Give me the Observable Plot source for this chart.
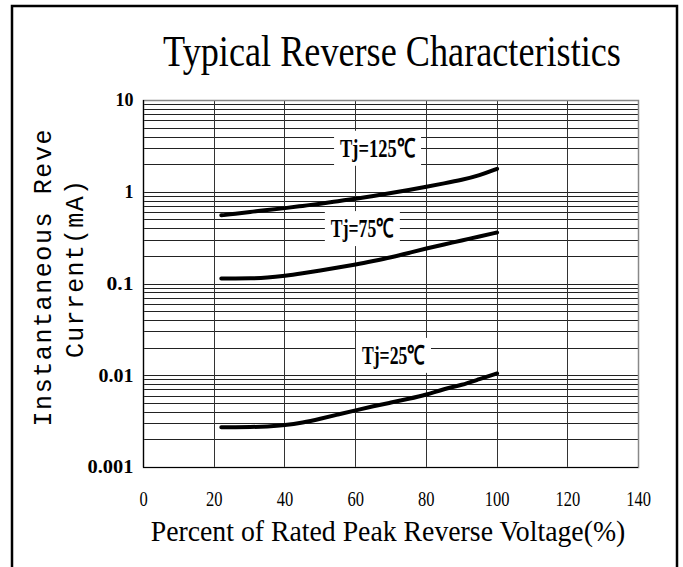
<!DOCTYPE html>
<html>
<head>
<meta charset="utf-8">
<script src="https://cdn.jsdelivr.net/npm/d3@7"></script>
<script src="https://cdn.jsdelivr.net/npm/@observablehq/plot@0.6"></script>
<style>
  html, body { margin: 0; padding: 0; background: #fff; }
  svg { display: block; }
</style>
</head>
<body>
<script>
// ---- data ----
const titleText = "Typical Reverse Characteristics";
const xTitle = "Percent of Rated Peak Reverse Voltage(%)";
const yTitleLines = ["Instantaneous Reve", "Current(mA)"];

const xTicks = [0, 20, 40, 60, 80, 100, 120, 140];
const xGrid = [20, 40, 60, 80, 100, 120];
const yTicks = [10, 1, 0.1, 0.01, 0.001];
const yTickLabels = ["10", "1", "0.1", "0.01", "0.001"];
const yDecades = [0.001, 0.01, 0.1, 1];
const yMinor = [2, 3, 4, 5, 6, 7, 8, 9];

const pct = [22, 26, 30, 35, 40, 45, 50, 55, 60, 65, 70, 75, 80, 85, 90, 95, 100];
const tj125 = [0.56, 0.58, 0.61, 0.64, 0.67, 0.71, 0.75, 0.80, 0.85, 0.91, 0.98, 1.06, 1.15, 1.25, 1.36, 1.52, 1.80];
const tj75  = [0.115, 0.115, 0.115, 0.117, 0.123, 0.131, 0.140, 0.151, 0.163, 0.178, 0.195, 0.218, 0.244, 0.270, 0.298, 0.330, 0.364];
const tj25  = [0.00275, 0.00275, 0.00276, 0.0028, 0.00288, 0.00308, 0.0034, 0.00378, 0.0042, 0.00465, 0.0051, 0.0056, 0.0062, 0.0072, 0.0079, 0.0092, 0.0106];

const labelText = ["Tj=125℃", "Tj=75℃", "Tj=25℃"];
const labelX = [66.2, 61.9, 70.7];
const labelY = [3.0, 0.40, 0.0166];

// ---- derived tables ----
const yGrid = yDecades.flatMap(d => yMinor.map(m => m * d)).concat(yTicks);
const series = [
  ...pct.map((x, i) => ({x, y: tj125[i], s: "125"})),
  ...pct.map((x, i) => ({x, y: tj75[i], s: "75"})),
  ...pct.map((x, i) => ({x, y: tj25[i], s: "25"}))
];
const labels = labelText.map((t, i) => ({t, x: labelX[i], y: labelY[i]}));

const plot = Plot.plot({
  width: 683,
  height: 567,
  marginLeft: 143,
  marginRight: 45,
  marginTop: 100,
  marginBottom: 100,
  x: {domain: [0, 140], axis: null},
  y: {type: "log", domain: [0.001, 10], axis: null},
  style: {background: "white", fontFamily: "Liberation Serif", color: "black"},
  marks: [
    Plot.ruleY(yGrid, {stroke: "#222", strokeWidth: 1, shapeRendering: "crispEdges"}),
    Plot.ruleX(xGrid, {stroke: "#333", strokeWidth: 1, shapeRendering: "crispEdges"}),
    Plot.frame({stroke: "#888", strokeWidth: 1.5}),
    Plot.ruleX([0], {stroke: "#000", strokeWidth: 1.2}),
    Plot.ruleY([0.001], {stroke: "#000", strokeWidth: 1.2}),
    Plot.line(series, {x: "x", y: "y", z: "s", stroke: "#000", strokeWidth: 4, curve: "basis"}),
    Plot.text(labels, {x: "x", y: "y", text: "t", fontSize: 26, fontWeight: "bold", fontFamily: "Liberation Serif", fill: "#000"}),
    Plot.text(yTicks, {x: () => 0, y: d => d, text: (d, i) => yTickLabels[i], textAnchor: "end", dx: -10, fontSize: 18, fontWeight: "bold", fontFamily: "Liberation Serif", fill: "#000"}),
    Plot.text(xTicks, {x: d => d, y: () => 0.001, dy: 31, text: d => String(d), fontSize: 22, fontFamily: "Liberation Serif", fill: "#000"})
  ]
});

document.body.appendChild(plot);

const svg = d3.select(plot);
const textGroups = plot.querySelectorAll('g[aria-label="text"]');

function condense(el, factor, target) {
  const w = el.getComputedTextLength();
  const len = target != null ? target : w * factor;
  el.setAttribute("textLength", len);
  el.setAttribute("lengthAdjust", "spacingAndGlyphs");
}

// curve labels: condensed + white boxes
const labelWidths = [75, 63, 63];
textGroups[0].querySelectorAll("text").forEach((t, i) => {
  condense(t, 1, labelWidths[i]);
  const bb = t.getBBox();
  const r = document.createElementNS("http://www.w3.org/2000/svg", "rect");
  r.setAttribute("x", bb.x - 6);
  r.setAttribute("y", bb.y - 3);
  r.setAttribute("width", bb.width + 12);
  r.setAttribute("height", bb.height + 6);
  r.setAttribute("fill", "white");
  const tr = t.getAttribute("transform");
  if (tr) r.setAttribute("transform", tr);
  textGroups[0].insertBefore(r, t);
});

// y tick labels widths
const yLabelWidths = [18, 9, 27, 35, 46];
textGroups[1].querySelectorAll("text").forEach((t, i) => {
  if (yLabelWidths[i] > 10) condense(t, 1, yLabelWidths[i]);
});
// x tick labels condensed
textGroups[2].querySelectorAll("text").forEach(t => condense(t, 0.75));

// outer frame
svg.append("rect")
  .attr("x", 12).attr("y", 6).attr("width", 665).attr("height", 580)
  .attr("fill", "none").attr("stroke", "#000").attr("stroke-width", 2.5);

// horizontally squeezed text via transform scale
function squeezed(str, cx, by, size, target) {
  const t = svg.append("text")
    .attr("text-anchor", "middle")
    .attr("font-family", "Liberation Serif")
    .attr("font-size", size)
    .attr("fill", "#000")
    .text(str);
  const w = t.node().getComputedTextLength();
  t.attr("transform", `translate(${cx},${by}) scale(${target / w},1)`);
  return t;
}
squeezed(titleText, 392, 66, 44, 458);
squeezed(xTitle, 388, 541, 29, 475);

// y title (two rotated lines)
const yLinePos = [{bx: 51, cy: 278, len: 297}, {bx: 83, cy: 269, len: 178}];
yTitleLines.forEach((line, i) => {
  const p = yLinePos[i];
  const t = svg.append("text")
    .attr("transform", `translate(${p.bx},${p.cy}) rotate(-90)`)
    .attr("text-anchor", "middle")
    .attr("font-family", "Liberation Mono")
    .attr("font-size", 25)
    .attr("fill", "#000")
    .text(line);
  t.attr("textLength", p.len).attr("lengthAdjust", "spacing");
});
</script>
</body>
</html>
